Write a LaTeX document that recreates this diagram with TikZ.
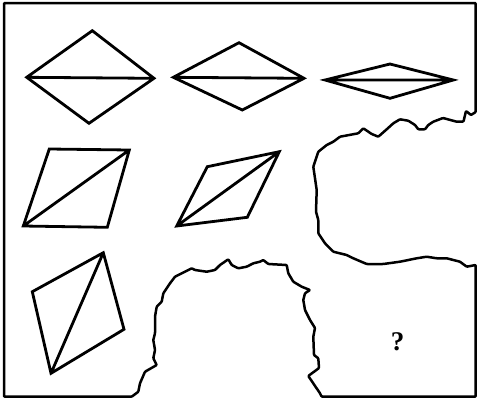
\documentclass[tikz,border=0pt]{standalone}
\usepackage{fontspec}
\setmainfont{Liberation Serif}
\begin{document}
\begin{tikzpicture}[x=1pt,y=-1pt,
  figline/.style={line width=2.8pt,line join=miter},
  frameline/.style={line width=2.5pt,line join=round,rounded corners=0.8pt}]
\useasboundingbox (0,0) rectangle (479,400);
% frame with torn cut-outs
\draw[frameline] (4,3) -- (475.7,3) -- (475.7,112) -- (471,115) -- (466,111) -- (463.5,121.5)
 -- (456.7,121.7) -- (443,118) -- (433.3,121.7) -- (428.3,125) -- (425,129.3) -- (418.3,129.3)
 -- (415,125) -- (408.3,120.7) -- (400,119.3) -- (393.3,123.3) -- (386.7,129.3) -- (378.3,136.7)
 -- (371.7,134) -- (363.3,128.3) -- (358.3,133.3) -- (340,136.7) -- (333.3,141.7) -- (326.7,145)
 -- (318.3,151.7) -- (313.3,166.7) -- (316.7,190) -- (316,211.7) -- (318.3,220) -- (318.3,233.3)
 -- (325,243.3) -- (333.3,251.7) -- (346.7,255) -- (353.3,258.3) -- (366.7,264) -- (383.3,264)
 -- (400,261.7) -- (416.7,258.3) -- (426.7,256.7) -- (436.7,258.3) -- (446.7,258.3) -- (460,261.7)
 -- (466.7,266.7) -- (475.7,265)
 -- (475.7,396.7) -- (321.7,396.7) -- (320,393.3) -- (308.3,376) -- (319,368) -- (318.3,358.3)
 -- (314,355) -- (313.3,336.7) -- (315,328) -- (310,320) -- (305,310) -- (303.3,300) -- (305,293.3)
 -- (310,290) -- (301.7,286.7) -- (293.3,281.7) -- (288.3,273.3) -- (286.7,265) -- (268.3,264)
 -- (263.3,260) -- (260,261.7) -- (253.3,263.3) -- (246.7,266.7) -- (238.3,268.3) -- (231.7,265)
 -- (228.3,259.3) -- (220,265) -- (215,270) -- (206.7,271.7) -- (195,270) -- (191.7,268.3)
 -- (181.7,273.3) -- (175,276.7) -- (170,283.3) -- (163.3,293.3) -- (161.7,301.7) -- (156.7,306.7)
 -- (155,316.7) -- (155,333.3) -- (153.3,340) -- (155,350) -- (153.3,358.3) -- (156.7,365)
 -- (145,371.7) -- (140,383.3) -- (138.3,391.7) -- (131.7,396.7) -- (4,396.7) -- cycle;
% row 1
\draw[figline] (26.7,77.3) -- (92.3,30.7) -- (154,78.3) -- (89,123.3) -- cycle (26.7,77.3) -- (154,78.3);
\draw[figline] (173.3,77.3) -- (239,42.7) -- (304,78.3) -- (242.3,110) -- cycle (173.3,77.3) -- (304,78.3);
\draw[figline] (325,80) -- (390,64) -- (453.3,80) -- (390,98.3) -- cycle (325,80) -- (453.3,80);
% row 2
\draw[figline] (49.3,149) -- (129.3,150) -- (107.3,227.3) -- (23.3,226) -- cycle (23.3,226) -- (129.3,150);
\draw[figline] (207.3,166.7) -- (279.3,151.7) -- (247.3,217.3) -- (176.7,226) -- cycle (176.7,226) -- (279.3,151.7);
% row 3
\draw[figline] (103.3,252.7) -- (124,329.3) -- (51,373.3) -- (32.3,291.7) -- cycle (103.3,252.7) -- (51,373.3);
\node[font=\fontsize{27}{27}\selectfont\bfseries,inner sep=0pt] (q) at (397.5,341.5) {?};
\end{tikzpicture}
\end{document}
